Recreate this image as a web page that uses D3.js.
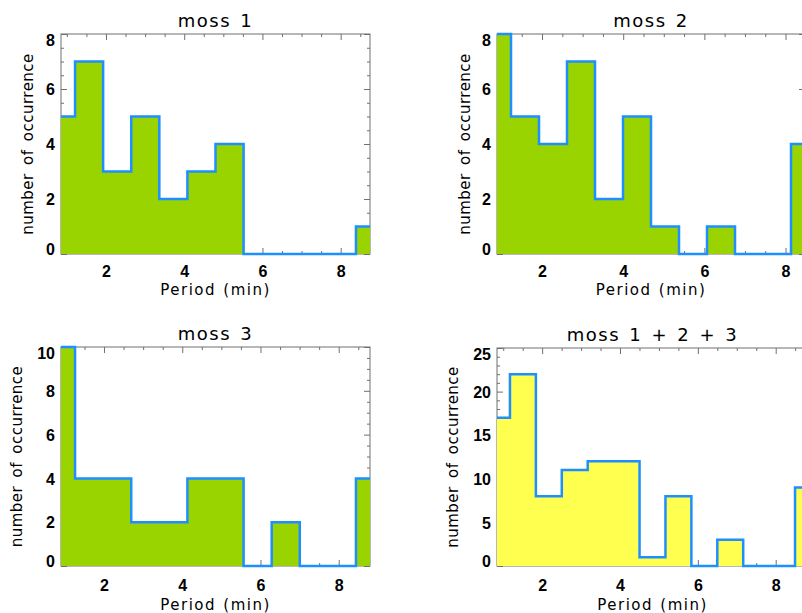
<!DOCTYPE html>
<html>
<head>
    <script src="https://d3js.org/d3.v7.min.js"></script>
    <style>
        body { margin: 0; background: #fff; }
        text { font-family: "DejaVu Sans", sans-serif; fill: #000; }
        .tick text { font-family: "Liberation Sans", sans-serif; font-weight: bold; font-size: 16px; }
        .title { font-size: 18px; letter-spacing: 1.5px; word-spacing: 2px; }
        .xlabel { font-size: 15px; letter-spacing: 1.5px; word-spacing: 1px; }
        .ylabel { font-size: 15px; letter-spacing: 0.5px; word-spacing: 3px; }
    </style>
</head>
<body>
    <div id="chart"></div>

    <script>
        // Histogram counts per period bin
        var moss1 = [5, 7, 3, 5, 2, 3, 4, 0, 0, 0, 0, 1];
        var moss2 = [8, 5, 4, 7, 2, 5, 1, 0, 1, 0, 0, 4];
        var moss3 = [10, 4, 4, 2, 2, 4, 4, 0, 2, 0, 0, 4];
        var mossAll = [17, 22, 8, 11, 12, 12, 1, 8, 0, 3, 0, 0, 9];

        // First and last bin centre (min) of each histogram
        var periodRanges = [[0.85, 8.75], [0.89, 8.48], [0.90, 8.80], [0.84, 8.83]];

        var titles = ["moss 1", "moss 2", "moss 3", "moss 1 + 2 + 3"];
        var xTicks = [2, 4, 6, 8];
        var yTicks8 = [0, 2, 4, 6, 8];
        var yTicks10 = [0, 2, 4, 6, 8, 10];
        var yTicks25 = [0, 5, 10, 15, 20, 25];

        var green = "#99d400", yellow = "#ffff4f", blue = "#1e8fff", axisColor = "#707070";

        var panels = [
            { counts: moss1, range: periodRanges[0], title: titles[0], yTicks: yTicks8, yMinor: 0.5, fill: green,
              left: 61, top: 34, width: 309, height: 220, ylabOff: 33, xtickPad: 12, xlabOff: 41 },
            { counts: moss2, range: periodRanges[1], title: titles[1], yTicks: yTicks8, yMinor: 0.5, fill: green,
              left: 497, top: 34, width: 308, height: 220, ylabOff: 32, xtickPad: 12, xlabOff: 41 },
            { counts: moss3, range: periodRanges[2], title: titles[2], yTicks: yTicks10, yMinor: 0.5, fill: green,
              left: 61, top: 347, width: 309, height: 219, ylabOff: 44, xtickPad: 14, xlabOff: 44 },
            { counts: mossAll, range: periodRanges[3], title: titles[3], yTicks: yTicks25, yMinor: 1, fill: yellow,
              left: 497, top: 348, width: 311, height: 218, ylabOff: 44, xtickPad: 14, xlabOff: 44 }
        ];

        var svg = d3.select("#chart")
            .append("svg")
            .attr("width", 802)
            .attr("height", 613);

        panels.forEach(function(p) {
            var g = svg.append("g")
                .attr("transform", "translate(" + p.left + "," + p.top + ")");

            var x = d3.scaleLinear().domain(p.range).range([0, p.width]);
            var yMax = p.yTicks[p.yTicks.length - 1];
            var y = d3.scaleLinear().domain([0, yMax]).range([p.height, 0]);

            var n = p.counts.length;
            var step = (p.range[1] - p.range[0]) / (n - 1);
            var bins = p.counts.map(function(c, i) {
                return { period: p.range[0] + i * step, count: c };
            });

            // minor tick values
            var xMinor = d3.range(Math.ceil(p.range[0] * 2) / 2, p.range[1], 0.5)
                .filter(function(v) { return xTicks.indexOf(v) < 0; });
            var yMinor = d3.range(0, yMax, p.yMinor)
                .filter(function(v) { return p.yTicks.indexOf(v) < 0; });

            // frame
            g.append("rect")
                .attr("width", p.width)
                .attr("height", p.height)
                .attr("fill", "none")
                .attr("stroke", axisColor)
                .attr("stroke-width", 1);

            function styleAxis(sel) {
                sel.select(".domain").remove();
                sel.selectAll(".tick line").attr("stroke", axisColor);
            }

            // bottom axis with labels
            g.append("g")
                .attr("transform", "translate(0," + p.height + ")")
                .call(d3.axisBottom(x).tickValues(xTicks).tickSizeInner(-6).tickSizeOuter(0).tickPadding(p.xtickPad).tickFormat(d3.format("d")))
                .call(styleAxis);
            g.append("g")
                .attr("transform", "translate(0," + p.height + ")")
                .call(d3.axisBottom(x).tickValues(xMinor).tickSizeInner(-3).tickSizeOuter(0).tickFormat(""))
                .call(styleAxis);
            // top axis
            g.append("g")
                .call(d3.axisTop(x).tickValues(xTicks).tickSizeInner(-6).tickSizeOuter(0).tickFormat(""))
                .call(styleAxis);
            g.append("g")
                .call(d3.axisTop(x).tickValues(xMinor).tickSizeInner(-3).tickSizeOuter(0).tickFormat(""))
                .call(styleAxis);

            // left axis with labels
            var yAxis = g.append("g")
                .call(d3.axisLeft(y).tickValues(p.yTicks).tickSizeInner(-6).tickSizeOuter(0).tickPadding(6).tickFormat(d3.format("d")))
                .call(styleAxis);
            // end labels sit inside the axis range
            yAxis.selectAll(".tick text")
                .attr("dy", function(d) {
                    if (d === 0) return "0em";
                    if (d === yMax) return "0.72em";
                    return "0.36em";
                });
            g.append("g")
                .call(d3.axisLeft(y).tickValues(yMinor).tickSizeInner(-3).tickSizeOuter(0).tickFormat(""))
                .call(styleAxis);
            // right axis
            g.append("g")
                .attr("transform", "translate(" + p.width + ",0)")
                .call(d3.axisRight(y).tickValues(p.yTicks).tickSizeInner(-6).tickSizeOuter(0).tickFormat(""))
                .call(styleAxis);
            g.append("g")
                .attr("transform", "translate(" + p.width + ",0)")
                .call(d3.axisRight(y).tickValues(yMinor).tickSizeInner(-3).tickSizeOuter(0).tickFormat(""))
                .call(styleAxis);

            // histogram fill and outline (psym=10 style steps)
            var area = d3.area()
                .curve(d3.curveStep)
                .x(function(d) { return x(d.period); })
                .y0(y(0))
                .y1(function(d) { return y(d.count); });
            var line = d3.line()
                .curve(d3.curveStep)
                .x(function(d) { return x(d.period); })
                .y(function(d) { return y(d.count); });

            g.append("path")
                .datum(bins)
                .attr("d", area)
                .attr("fill", p.fill);
            g.append("path")
                .datum(bins)
                .attr("d", line)
                .attr("fill", "none")
                .attr("stroke", blue)
                .attr("stroke-width", 2.5);

            // titles
            g.append("text")
                .attr("class", "title")
                .attr("x", p.width / 2)
                .attr("y", -7)
                .attr("text-anchor", "middle")
                .text(p.title);
            g.append("text")
                .attr("class", "xlabel")
                .attr("x", p.width / 2)
                .attr("y", p.height + p.xlabOff)
                .attr("text-anchor", "middle")
                .text("Period (min)");
            g.append("text")
                .attr("class", "ylabel")
                .attr("transform", "translate(" + (-p.ylabOff) + "," + (p.height / 2) + ") rotate(-90)")
                .attr("text-anchor", "middle")
                .attr("dominant-baseline", "central")
                .text("number of occurrence");
        });
    </script>
</body>
</html>
